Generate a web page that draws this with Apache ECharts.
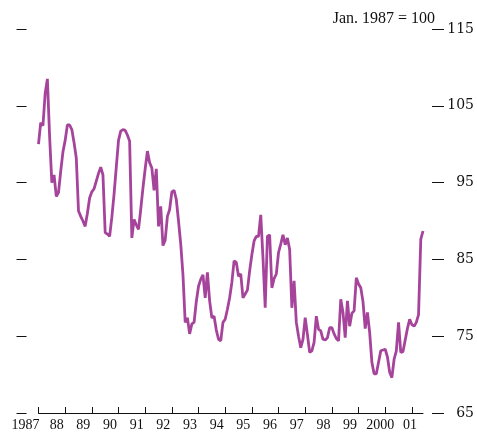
<!DOCTYPE html>
<html>
<head>
<meta charset="utf-8">
<script src="https://cdn.jsdelivr.net/npm/echarts@6/dist/echarts.min.js"></script>
<style>
html,body{margin:0;padding:0;background:#fff;}
#c{width:477px;height:432px;}
</style>
</head>
<body>
<div id="c"></div>
<script>
// Monthly index values (Jan. 1987 = 100), one array per year
var v1987 = [100, 102.8, 102.4, 106.6, 108.5, 101, 95.0, 96.0, 93.2, 93.7, 96.5, 99.0];
var v1988 = [100.5, 102.5, 102.5, 101.9, 100.2, 98.2, 91.3, 90.6, 90.0, 89.3, 91.0, 93.0];
var v1989 = [93.8, 94.2, 95.2, 96.2, 97.0, 96.0, 88.5, 88.3, 88.0, 90.5, 93.5, 97.0];
var v1990 = [100.5, 101.7, 101.9, 101.8, 101.2, 100.4, 87.8, 90.2, 89.5, 88.9, 91.5, 94.3];
var v1991 = [96.8, 99.1, 97.6, 96.9, 94.0, 96.8, 89.3, 91.9, 86.8, 87.5, 90.6, 91.5];
var v1992 = [93.8, 94.0, 92.8, 90.0, 87.0, 83.0, 76.8, 77.4, 75.3, 76.6, 76.8, 79.5];
var v1993 = [81.5, 82.4, 83.0, 80.0, 83.3, 79.6, 77.4, 77.6, 75.8, 74.6, 74.4, 76.8];
var v1994 = [77.2, 78.5, 80.0, 82.0, 84.8, 84.6, 82.8, 83.1, 80.0, 80.5, 81.0, 83.5];
var v1995 = [85.6, 87.4, 88.0, 88.0, 90.8, 85.2, 78.7, 88.0, 88.2, 81.3, 82.5, 83.1];
var v1996 = [85.9, 87.0, 88.2, 86.9, 87.8, 86.3, 78.7, 82.2, 76.8, 75.0, 73.5, 74.6];
var v1997 = [77.4, 75.2, 72.9, 73.1, 74.2, 77.6, 75.9, 75.7, 74.6, 74.5, 74.8, 76.1];
var v1998 = [76.1, 75.3, 74.7, 74.4, 79.8, 78.1, 74.8, 79.6, 76.3, 78.0, 78.3, 82.6];
var v1999 = [81.8, 81.3, 79.5, 76.0, 78.1, 75.5, 71.6, 70.1, 70.1, 71.6, 73.1, 73.2];
var v2000 = [73.3, 72.3, 70.3, 69.6, 72.0, 73.1, 76.8, 72.9, 73.0, 74.5, 76.0, 77.2];
var v2001 = [76.5, 76.3, 76.8, 77.8, 87.6, 88.7];

var yearTicks = [1987, 1988, 1989, 1990, 1991, 1992, 1993, 1994, 1995, 1996, 1997, 1998, 1999, 2000, 2001];
var yearLabels = ['1987', '88', '89', '90', '91', '92', '93', '94', '95', '96', '97', '98', '99', '2000', '01'];
var yTicks = [65, 75, 85, 95, 105, 115];
var baseNote = 'Jan. 1987 = 100';

var years = [v1987, v1988, v1989, v1990, v1991, v1992, v1993, v1994, v1995, v1996, v1997, v1998, v1999, v2000, v2001];
var data = [];
years.forEach(function (arr, yi) {
  arr.forEach(function (v, mi) {
    data.push([1987 + yi + mi / 12, v]);
  });
});
var lastX = data[data.length - 1][0];

var chart = echarts.init(document.getElementById('c'), null, {renderer: 'canvas'});
var serif = 'Liberation Serif';
chart.setOption({
  animation: false,
  backgroundColor: '#fff',
  grid: {left: 38.5, right: 477 - 424, top: 29, bottom: 19, containLabel: false},
  xAxis: {
    type: 'value',
    min: 1987,
    max: lastX,
    axisLine: {show: true, lineStyle: {color: '#111', width: 1}},
    axisTick: {show: true, inside: true, length: 6, customValues: yearTicks, lineStyle: {color: '#111', width: 1}},
    splitLine: {show: false},
    axisLabel: {
      customValues: yearTicks,
      margin: 5,
      color: '#111',
      fontFamily: serif,
      fontSize: 14,
      formatter: function (val) {
        var i = yearTicks.indexOf(Math.round(val));
        if (i < 0) return '';
        var t = yearLabels[i];
        var k = i === 0 ? 'b' : (i === 13 ? 'c' : (i === 14 ? 'd' : 'a'));
        return '{' + k + '|' + t + '}';
      },
      rich: {
        a: {fontFamily: serif, fontSize: 14, color: '#111', padding: [0, 17, 0, 0]},
        b: {fontFamily: serif, fontSize: 14, color: '#111', padding: [0, 26, 0, 0]},
        c: {fontFamily: serif, fontSize: 14, color: '#111', padding: [0, 10, 0, 0]},
        d: {fontFamily: serif, fontSize: 14, color: '#111', padding: [0, 4, 0, 0]}
      }
    }
  },
  yAxis: [{
    type: 'value',
    position: 'left',
    offset: 12,
    min: 65, max: 115, interval: 10,
    axisLine: {show: false},
    axisTick: {show: true, length: 10, lineStyle: {color: '#111', width: 1}},
    axisLabel: {show: false},
    splitLine: {show: false}
  }, {
    type: 'value',
    position: 'right',
    offset: 9,
    min: 65, max: 115, interval: 10,
    axisLine: {show: false},
    axisTick: {show: true, length: 12, lineStyle: {color: '#111', width: 1}},
    axisLabel: {
      show: true, align: 'right', margin: 42, color: '#111',
      fontFamily: 'DejaVu Serif', fontSize: 14,
      customValues: yTicks
    },
    splitLine: {show: false}
  }],
  graphic: [{
    type: 'text',
    x: 435, y: 19,
    style: {
      text: baseNote,
      fill: '#111',
      font: '16px "Liberation Serif"',
      textAlign: 'right',
      textVerticalAlign: 'middle'
    }
  }],
  series: [{
    type: 'line',
    yAxisIndex: 0,
    data: data,
    showSymbol: false,
    symbol: 'none',
    lineStyle: {color: '#a6449b', width: 2.8},
    itemStyle: {color: '#a6449b'}
  }]
});
</script>
</body>
</html>
